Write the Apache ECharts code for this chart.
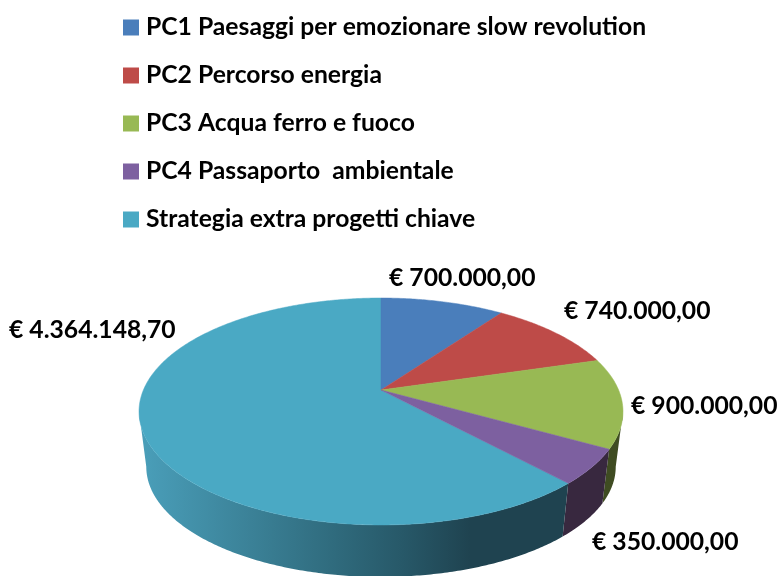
<!DOCTYPE html>
<html>
<head>
<meta charset="UTF-8">
<title>Progetti chiave</title>
<script type="text/javascript" src="https://cdn.jsdelivr.net/npm/echarts@6/dist/echarts.min.js"></script>
<style>
html, body { margin: 0; padding: 0; background: #fff; }
#main { width: 780px; height: 576px; }
</style>
</head>
<body>
<div id="main"></div>
<script type="text/javascript">
// dati
var categories = [
    'PC1 Paesaggi per emozionare slow revolution',
    'PC2 Percorso energia',
    'PC3 Acqua ferro e fuoco',
    'PC4 Passaporto  ambientale',
    'Strategia extra progetti chiave'
];
var values = [700000, 740000, 900000, 350000, 4364148.70];

// colori e posizione delle etichette
var topColors = ['#4A7EBB', '#BE4B48', '#98B954', '#7D60A0', '#4AA9C4'];
var labelPos = [[389, 278], [564, 311], [631, 406], [592, 542], [9, 330]];
var labelFont = 'bold 24.7px Lato, sans-serif';

var wallColors = [
    '#2C4A70', '#70292A', '#3F4C22', '#38283F',
    new echarts.graphic.LinearGradient(139, 0, 470, 0, [
        { offset: 0, color: '#4A9FBA' },
        { offset: 0.6, color: '#2F6A7C' },
        { offset: 0.8, color: '#275868' },
        { offset: 1, color: '#1F4350' }
    ], true)
];

// prospettiva della torta 3D
var cx = 381, apexY = 390, bottomY = 446, bottomScale = 0.97;
var rx = 237.6, ry = 109.4, persp = 0.1894;
var total = values.reduce(function (a, b) { return a + b; }, 0);

function project(angle, scale, y0) {
    var u = Math.sin(angle), v = -Math.cos(angle);
    var d = 1 - persp * v;
    return [cx + scale * rx * u / d, y0 + scale * ry * v / d];
}

function arc(from, to, scale, y0) {
    var pts = [];
    var n = Math.max(2, Math.ceil((to - from) / 0.01));
    for (var i = 0; i <= n; i++) {
        pts.push(project(from + (to - from) * i / n, scale, y0));
    }
    return pts;
}

// parte visibile del fianco: tra i due punti estremi dell'ellisse
var sideStart = Math.acos(-persp);
var sideEnd = 2 * Math.PI - sideStart;

function sliceRange(idx) {
    var before = 0;
    for (var i = 0; i < idx; i++) before += values[i];
    return [before / total * 2 * Math.PI, (before + values[idx]) / total * 2 * Math.PI];
}

function euro(v) {
    return '€ ' + v.toLocaleString('it-IT', { minimumFractionDigits: 2, maximumFractionDigits: 2 });
}

function makeRender(idx) {
    return function () {
        var range = sliceRange(idx);
        var children = [];
        var from = Math.max(range[0], sideStart), to = Math.min(range[1], sideEnd);
        if (from < to) {
            var wall = arc(from, to, 1, apexY).concat(arc(from, to, bottomScale, bottomY).reverse());
            children.push({
                type: 'polygon',
                shape: { points: wall },
                style: { fill: wallColors[idx] },
                z2: idx + 1
            });
        }
        children.push({
            type: 'polygon',
            shape: { points: [[cx, apexY]].concat(arc(range[0], range[1], 1, apexY)) },
            style: { fill: topColors[idx], stroke: topColors[idx], lineWidth: 0.5 },
            z2: 10 + (idx === 4 ? 0 : idx + 1)
        });
        children.push({
            type: 'text',
            style: {
                x: labelPos[idx][0],
                y: labelPos[idx][1],
                text: euro(values[idx]),
                font: labelFont,
                fill: '#000',
                textAlign: 'left',
                textVerticalAlign: 'middle'
            },
            z2: 20
        });
        return { type: 'group', children: children };
    };
}

var myChart = echarts.init(document.getElementById('main'), null, { renderer: 'canvas' });

var option = {
    animation: false,
    backgroundColor: '#fff',
    legend: {
        orient: 'vertical',
        left: 123,
        top: 15,
        padding: 0,
        itemWidth: 16,
        itemHeight: 16,
        itemGap: 23,
        selectedMode: false,
        icon: 'rect',
        textStyle: {
            fontFamily: 'Lato, sans-serif',
            fontWeight: 'bold',
            fontSize: 24.7,
            color: '#000',
            padding: [0, 0, 0, 2]
        },
        data: categories
    },
    series: categories.map(function (name, idx) {
        return {
            name: name,
            type: 'custom',
            coordinateSystem: 'none',
            silent: true,
            itemStyle: { color: topColors[idx] },
            renderItem: makeRender(idx),
            data: [values[idx]]
        };
    })
};

myChart.setOption(option);
</script>
</body>
</html>
